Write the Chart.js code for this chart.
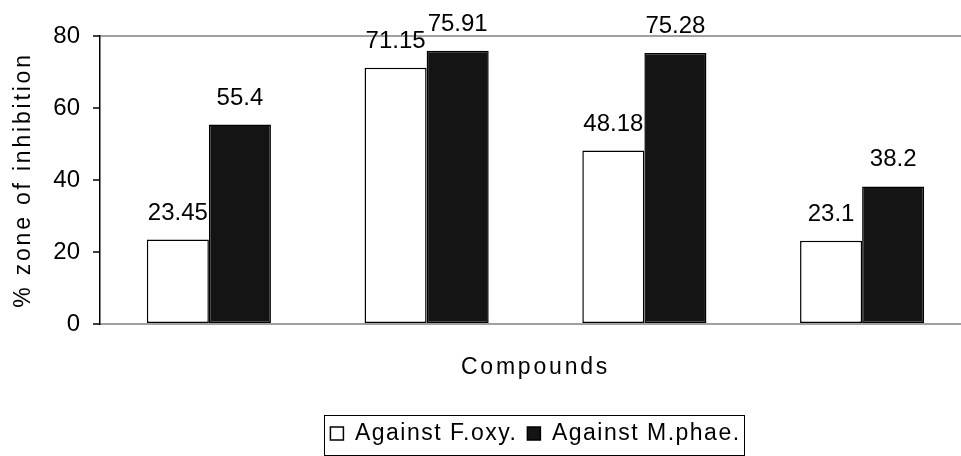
<!DOCTYPE html>
<html>
<head>
<meta charset="utf-8">
<script src="https://cdn.jsdelivr.net/npm/chart.js@4"></script>
<style>
  html, body { margin: 0; padding: 0; background: #fff; overflow: hidden; }
  #wrap { width: 975px; height: 456px; }
</style>
</head>
<body>
<div id="wrap"><canvas id="chart" width="975" height="456"></canvas></div>
<script>
// data
const categories = ['', '', '', ''];
const foxyValues = [23.45, 71.15, 48.18, 23.1];
const mphaeValues = [55.4, 75.91, 75.28, 38.2];
const seriesNames = ['Against F.oxy.', 'Against M.phae.'];
const yMin = 0, yMax = 80, yStep = 20;

const FONT = '"Liberation Sans", Arial, sans-serif';
const TITLE_SPACING = '2.8px';
const LEGEND_SPACING = '1.5px';

// run a method with a given canvas letter spacing
function withSpacing(obj, name, sp) {
    const orig = obj[name];
    obj[name] = function(...args) {
        const c = this.ctx;
        const prev = c.letterSpacing;
        c.letterSpacing = sp;
        try { return orig.apply(this, args); } finally { c.letterSpacing = prev; }
    };
}

const spacingPlugin = {
    id: 'spacing',
    afterInit(chart) {
        withSpacing(chart.legend, 'fit', LEGEND_SPACING);
        withSpacing(chart.legend, 'draw', LEGEND_SPACING);
    },
    beforeDraw(chart) {
        Object.values(chart.scales).forEach(s => {
            if (!s._spaced) {
                withSpacing(s, 'drawTitle', TITLE_SPACING);
                s._spaced = true;
            }
        });
    }
};

// values above the bars
const valueLabels = {
    id: 'valueLabels',
    afterDatasetsDraw(chart) {
        const ctx = chart.ctx;
        ctx.save();
        ctx.font = '24px ' + FONT;
        ctx.fillStyle = '#000';
        ctx.textAlign = 'center';
        ctx.textBaseline = 'alphabetic';
        chart.data.datasets.forEach((ds, i) => {
            chart.getDatasetMeta(i).data.forEach((bar, j) => {
                ctx.fillText(String(ds.data[j]), bar.x, bar.y - 20);
            });
        });
        ctx.restore();
    }
};

// frame round the legend
const legendFrame = {
    id: 'legendFrame',
    afterDraw(chart) {
        const boxes = chart.legend.legendHitBoxes;
        if (!boxes || !boxes.length) return;
        const left = Math.min(...boxes.map(b => b.left)) - 6;
        const right = Math.max(...boxes.map(b => b.left + b.width)) + 4;
        const top = Math.min(...boxes.map(b => b.top)) - 7;
        const ctx = chart.ctx;
        ctx.save();
        ctx.strokeStyle = '#000';
        ctx.lineWidth = 1;
        ctx.strokeRect(Math.round(left) + 0.5, Math.round(top) + 0.5, Math.round(right - left), 455 - Math.round(top));
        ctx.restore();
    }
};

new Chart(document.getElementById('chart').getContext('2d'), {
    type: 'bar',
    data: {
        labels: categories,
        datasets: [{
            label: seriesNames[0],
            data: foxyValues,
            backgroundColor: '#ffffff',
            borderColor: '#000000',
            borderWidth: 1.5,
            borderSkipped: false
        }, {
            label: seriesNames[1],
            data: mphaeValues,
            backgroundColor: '#141414',
            borderColor: '#000000',
            borderWidth: 1.5,
            borderSkipped: false
        }]
    },
    options: {
        responsive: false,
        animation: false,
        events: [],
        layout: { padding: { top: 36, right: 4, bottom: 1, left: 0 } },
        datasets: { bar: { categoryPercentage: 0.57, barPercentage: 1 } },
        plugins: {
            tooltip: { enabled: false },
            legend: {
                position: 'bottom',
                fullSize: false,
                labels: {
                    color: '#000',
                    font: { family: FONT, size: 23 },
                    boxWidth: 13,
                    boxHeight: 13,
                    padding: 10
                }
            }
        },
        scales: {
            x: {
                grid: { display: false },
                border: { color: '#a0a0a0', width: 2 },
                ticks: { display: false },
                title: {
                    display: true,
                    text: 'Compounds',
                    color: '#000',
                    font: { family: FONT, size: 23 },
                    padding: { top: 0, bottom: 31 }
                },
                afterFit(s) { s.height = 88; }
            },
            y: {
                min: yMin,
                max: yMax,
                ticks: {
                    stepSize: yStep,
                    color: '#000',
                    font: { family: FONT, size: 24 },
                    padding: 13
                },
                grid: {
                    drawOnChartArea: true,
                    color: c => (c.tick && c.tick.value === yMax) ? '#a0a0a0' : 'rgba(0,0,0,0)',
                    lineWidth: 2,
                    tickColor: '#000',
                    tickLength: 7,
                    tickWidth: 1.5
                },
                border: { color: '#000', width: 1.5 },
                title: {
                    display: true,
                    text: '% zone of inhibition',
                    color: '#000',
                    font: { family: FONT, size: 23 },
                    padding: { top: 10, bottom: 0 }
                },
                afterFit(s) { s.width = 100; }
            }
        }
    },
    plugins: [spacingPlugin, valueLabels, legendFrame]
});
</script>
</body>
</html>
